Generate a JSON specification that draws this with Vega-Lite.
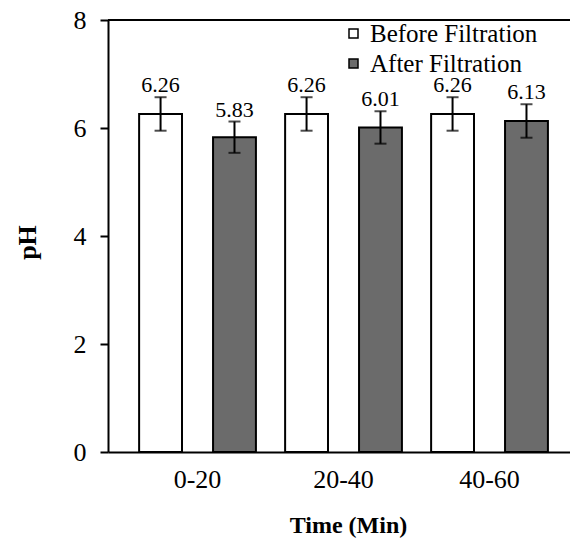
{
  "$schema": "https://vega.github.io/schema/vega-lite/v6.json",
  "width": 462,
  "height": 432,
  "autosize": {"type": "none"},
  "padding": {"left": 108, "top": 20, "right": 0, "bottom": 86},
  "background": "white",
  "config": {"view": {"stroke": null}, "font": "Liberation Serif, Times New Roman, serif"},
  "data": {"values": [
    {"time": "0-20", "stage": "Before Filtration", "ph": 6.26, "lo": 5.95, "hi": 6.57},
    {"time": "0-20", "stage": "After Filtration", "ph": 5.83, "lo": 5.54, "hi": 6.12},
    {"time": "20-40", "stage": "Before Filtration", "ph": 6.26, "lo": 5.95, "hi": 6.57},
    {"time": "20-40", "stage": "After Filtration", "ph": 6.01, "lo": 5.71, "hi": 6.31},
    {"time": "40-60", "stage": "Before Filtration", "ph": 6.26, "lo": 5.95, "hi": 6.57},
    {"time": "40-60", "stage": "After Filtration", "ph": 6.13, "lo": 5.82, "hi": 6.44}
  ]},
  "layer": [
    {
      "mark": {"type": "bar", "stroke": "black", "strokeWidth": 2},
      "encoding": {
        "x": {"field": "time", "type": "nominal", "sort": ["0-20", "20-40", "40-60"],
          "scale": {"paddingInner": 0.2, "paddingOuter": 0.1822, "align": 0.585},
          "axis": {"title": "Time (Min)", "ticks": false, "tickSize": 0, "domainColor": "black", "domainWidth": 2,
            "labelFontSize": 26, "labelFont": "Liberation Serif, Times New Roman, serif", "labelColor": "black", "labelAngle": 0,
            "labelBaseline": "alphabetic", "labelPadding": 35,
            "titleFont": "Liberation Serif, Times New Roman, serif", "titleFontSize": 24, "titleFontWeight": "bold", "titleColor": "black",
            "titleX": 240, "titleY": 80, "titleBaseline": "alphabetic"}},
        "xOffset": {"field": "stage", "type": "nominal", "sort": ["Before Filtration", "After Filtration"],
          "scale": {"paddingInner": 0.42, "paddingOuter": 0}},
        "y": {"field": "ph", "type": "quantitative", "title": "pH", "scale": {"domain": [0, 8]},
          "axis": {"values": [0, 2, 4, 6, 8], "grid": false, "domainColor": "black", "domainWidth": 2,
            "tickColor": "black", "tickWidth": 2, "tickSize": 8,
            "labelFontSize": 26, "labelFont": "Liberation Serif, Times New Roman, serif", "labelColor": "black", "labelPadding": 14,
            "titleFont": "Liberation Serif, Times New Roman, serif", "titleFontSize": 26, "titleFontWeight": "bold", "titleColor": "black",
            "titleX": -73, "titleY": 222, "titleBaseline": "alphabetic", "titleAngle": -90}},
        "color": {"field": "stage", "type": "nominal",
          "scale": {"domain": ["Before Filtration", "After Filtration"], "range": ["white", "#6b6b6b"]},
          "legend": {"title": null, "orient": "none", "legendX": 233, "legendY": 1, "symbolType": "square",
            "symbolSize": 81, "symbolStrokeColor": "black", "symbolStrokeWidth": 1.5, "symbolOpacity": 1,
            "labelFontSize": 25, "labelFont": "Liberation Serif, Times New Roman, serif", "labelColor": "black", "labelOffset": 4,
            "labelLimit": 400, "rowPadding": 4, "padding": 0}}
      }
    },
    {
      "mark": {"type": "rule", "color": "black", "strokeWidth": 2},
      "encoding": {
        "x": {"field": "time", "type": "nominal", "sort": ["0-20", "20-40", "40-60"]},
        "xOffset": {"field": "stage", "type": "nominal", "sort": ["Before Filtration", "After Filtration"]},
        "y": {"field": "lo", "type": "quantitative", "title": "pH"},
        "y2": {"field": "hi"}
      }
    },
    {
      "mark": {"type": "tick", "color": "black", "thickness": 2, "size": 12},
      "encoding": {
        "x": {"field": "time", "type": "nominal", "sort": ["0-20", "20-40", "40-60"]},
        "xOffset": {"field": "stage", "type": "nominal", "sort": ["Before Filtration", "After Filtration"]},
        "y": {"field": "lo", "type": "quantitative", "title": "pH"}
      }
    },
    {
      "mark": {"type": "tick", "color": "black", "thickness": 2, "size": 12},
      "encoding": {
        "x": {"field": "time", "type": "nominal", "sort": ["0-20", "20-40", "40-60"]},
        "xOffset": {"field": "stage", "type": "nominal", "sort": ["Before Filtration", "After Filtration"]},
        "y": {"field": "hi", "type": "quantitative", "title": "pH"}
      }
    },
    {
      "mark": {"type": "text", "baseline": "alphabetic", "dy": -5, "fontSize": 22, "font": "Liberation Serif, Times New Roman, serif", "color": "black"},
      "encoding": {
        "x": {"field": "time", "type": "nominal", "sort": ["0-20", "20-40", "40-60"]},
        "xOffset": {"field": "stage", "type": "nominal", "sort": ["Before Filtration", "After Filtration"]},
        "y": {"field": "hi", "type": "quantitative", "title": "pH"},
        "text": {"field": "ph", "type": "quantitative", "format": ".2f"}
      }
    },
    {
      "mark": {"type": "rule", "color": "black", "strokeWidth": 2},
      "encoding": {"y": {"datum": 8}}
    }
  ]
}
